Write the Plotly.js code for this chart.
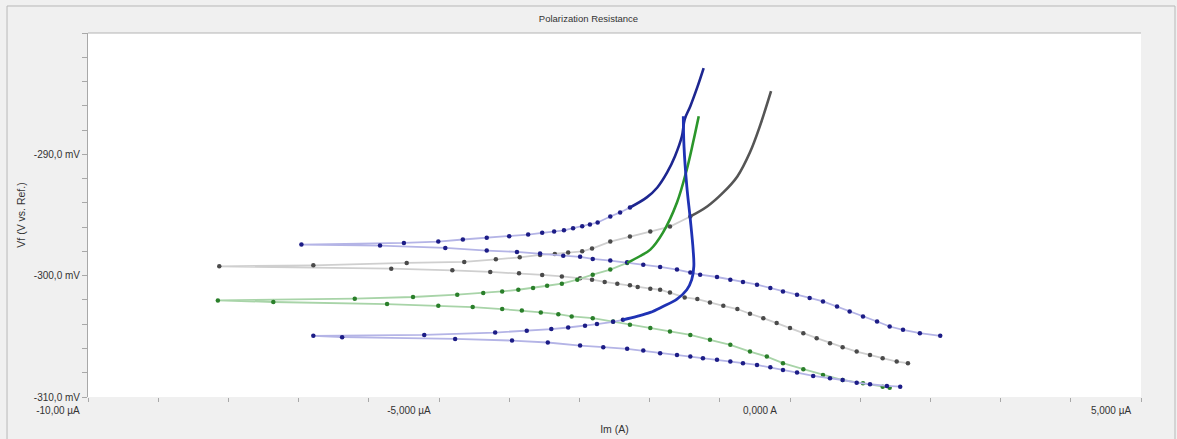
<!DOCTYPE html>
<html>
<head>
<meta charset="utf-8">
<script src="https://cdn.plot.ly/plotly-3.0.1.min.js"></script>
<style>html,body{margin:0;padding:0;background:#f0f0f0;}#chart{width:1177px;height:439px;}</style>
</head>
<body>
<div id="chart"></div>
<script>
// Current in µA, potential in mV
// Blue curve A (sparse/marked part: lower branch right->left, then upper branch)
const blueA_x = [2.14,1.85,1.61,1.42,1.24,1.04,0.85,0.67,0.47,0.28,0.10,-0.10,-0.28,-0.47,-0.67,-0.85,-1.04,-1.28,-1.42,-1.61,-1.85,-2.09,-2.32,-2.56,-2.81,-2.99,-3.23,-3.56,-3.89,-4.32,-4.91,-5.84,-6.96,-5.50,-5.01,-4.66,-4.32,-4.00,-3.73,-3.53,-3.36,-3.22,-3.09,-2.96,-2.85,-2.74,-2.56,-2.42,-2.28];
const blueA_y = [-304.96,-304.74,-304.46,-304.19,-303.78,-303.36,-302.95,-302.54,-302.12,-301.84,-301.57,-301.30,-301.02,-300.74,-300.52,-300.33,-300.11,-299.92,-299.73,-299.50,-299.28,-299.09,-298.90,-298.76,-298.62,-298.45,-298.35,-298.18,-298.04,-297.93,-297.71,-297.52,-297.44,-297.30,-297.19,-297.02,-296.88,-296.75,-296.61,-296.47,-296.36,-296.26,-296.09,-295.93,-295.79,-295.62,-295.12,-294.79,-294.38];
const blueA_dense_x = [-2.28,-2.04,-1.89,-1.75,-1.64,-1.54,-1.50,-1.42,-1.32,-1.23];
const blueA_dense_y = [-294.38,-293.55,-292.73,-291.49,-290.17,-288.51,-287.11,-286.03,-284.46,-282.89];

// Blue curve B
const blueB_x = [1.57,1.38,1.14,0.95,0.75,0.57,0.33,0.10,-0.10,-0.28,-0.47,-0.67,-0.85,-1.04,-1.24,-1.42,-1.61,-1.85,-2.09,-2.32,-2.66,-2.99,-3.45,-3.96,-4.77,-6.38,-6.79,-5.21,-4.20,-3.75,-3.40,-3.16,-2.92,-2.75,-2.52,-2.38];
const blueB_y = [-309.15,-309.09,-308.95,-308.82,-308.60,-308.45,-308.26,-307.99,-307.77,-307.55,-307.36,-307.21,-307.08,-306.94,-306.80,-306.67,-306.53,-306.39,-306.17,-306.03,-305.89,-305.76,-305.51,-305.35,-305.21,-305.07,-304.96,-304.88,-304.69,-304.55,-304.40,-304.27,-304.13,-303.99,-303.80,-303.64];
const blueB_dense_x = [-2.38,-2.18,-1.99,-1.81,-1.61,-1.47,-1.40,-1.37,-1.38,-1.42,-1.47,-1.51,-1.52];
const blueB_dense_y = [-303.64,-303.36,-303.03,-302.54,-301.93,-301.16,-300.33,-299.23,-297.85,-295.37,-292.64,-289.34,-286.86];

// Green curve
const green_x = [1.42,1.32,1.04,0.75,0.47,0.19,-0.10,-0.33,-0.57,-0.85,-1.14,-1.42,-1.71,-1.99,-2.28,-2.52,-2.81,-3.11,-3.30,-3.55,-3.82,-4.10,-4.52,-5.01,-5.74,-7.36,-8.15,-6.20,-5.37,-4.74,-4.37,-4.10,-3.87,-3.66,-3.46,-3.25,-3.03,-2.81,-2.56,-2.32];
const green_y = [-309.23,-309.15,-308.87,-308.60,-308.18,-307.71,-307.21,-306.67,-306.26,-305.70,-305.29,-304.88,-304.60,-304.32,-304.05,-303.78,-303.50,-303.36,-303.17,-303.03,-302.87,-302.75,-302.59,-302.48,-302.34,-302.17,-302.04,-301.90,-301.76,-301.57,-301.43,-301.30,-301.16,-301.02,-300.83,-300.66,-300.33,-299.92,-299.50,-298.95];
const green_dense_x = [-2.32,-2.14,-1.99,-1.81,-1.61,-1.47,-1.38,-1.30];
const green_dense_y = [-298.95,-298.40,-297.85,-296.45,-293.97,-291.24,-289.01,-286.86];

// Gray curve
const gray_x = [1.68,1.52,1.32,1.14,0.95,0.75,0.57,0.38,0.19,0.00,-0.19,-0.38,-0.57,-0.75,-0.95,-1.14,-1.32,-1.50,-1.71,-1.85,-1.99,-2.17,-2.28,-2.46,-2.64,-2.82,-2.99,-3.25,-3.53,-3.86,-4.27,-4.81,-5.68,-8.13,-6.79,-5.46,-4.64,-4.19,-3.85,-3.56,-3.35,-3.16,-2.96,-2.82,-2.56,-2.28,-1.99,-1.71,-1.42];
const gray_y = [-307.21,-307.08,-306.80,-306.53,-306.26,-305.89,-305.56,-305.15,-304.74,-304.32,-303.91,-303.50,-303.14,-302.75,-302.48,-302.21,-301.93,-301.79,-301.38,-301.16,-301.07,-300.93,-300.80,-300.66,-300.52,-300.33,-300.22,-300.06,-299.94,-299.81,-299.69,-299.56,-299.42,-299.23,-299.15,-298.95,-298.87,-298.65,-298.49,-298.29,-298.21,-298.10,-297.99,-297.77,-297.19,-296.78,-296.36,-295.95,-295.12];
const gray_dense_x = [-1.42,-1.18,-0.95,-0.75,-0.57,-0.43,-0.27];
const gray_dense_y = [-295.12,-294.30,-293.14,-291.82,-289.83,-287.69,-284.79];

const xTickVals = [-10,-5,0,5];
const xTickText = ["-10,00 µA","-5,000 µA","0,000 A","5,000 µA"];
const yTickVals = [-310,-300,-290];
const yTickText = ["-310,0 mV","-300,0 mV","-290,0 mV"];

function marked(x,y,lineCol,markCol){
  return {x:x,y:y,type:'scatter',mode:'lines+markers',
    line:{color:lineCol,width:1.8},
    marker:{color:markCol,size:4.5,symbol:'circle'},hoverinfo:'skip',showlegend:false};
}
function dense(x,y,col,w){
  return {x:x,y:y,type:'scatter',mode:'lines',line:{color:col,width:w,shape:'spline'},hoverinfo:'skip',showlegend:false};
}

const data = [
  marked(gray_x,gray_y,'#cfcfcf','#4a4a4a'),
  marked(green_x,green_y,'#a8d4a8','#2a7f2a'),
  marked(blueA_x,blueA_y,'#b4b4e6','#1c1c86'),
  marked(blueB_x,blueB_y,'#b4b4e6','#1c1c86'),
  dense(gray_dense_x,gray_dense_y,'#555555',2.6),
  dense(green_dense_x,green_dense_y,'#2b962b',2.6),
  dense(blueA_dense_x,blueA_dense_y,'#1d2690',2.6),
  dense(blueB_dense_x,blueB_dense_y,'#1f32b4',2.8)
];

const font = {family:'Arial, "Liberation Sans", sans-serif', size:10, color:'#333333'};

const layout = {
  width:1177, height:439,
  margin:{l:88, r:36, t:33, b:42, pad:0},
  paper_bgcolor:'#f0f0f0', plot_bgcolor:'#ffffff',
  font:font,
  title:{text:'Polarization Resistance', font:{family:font.family,size:9.5,color:'#333'}, xref:'container', x:0.5, xanchor:'center', yref:'container', y:0.957, yanchor:'middle'},
  xaxis:{range:[-10,5], tickvals:xTickVals, ticktext:xTickText, ticks:'outside', ticklen:4, tickcolor:'#a8a8a8', tickwidth:1,
    ticklabelshift:-30,
    minor:{dtick:1, tick0:0, ticks:'outside', ticklen:4, tickcolor:'#a8a8a8', tickwidth:1, showgrid:false},
    showgrid:false, zeroline:false, showline:false,
    title:{text:'Im (A)', font:{family:font.family,size:10.5,color:'#333'}, standoff:10},
    tickfont:{family:font.family,size:10,color:'#333'}, fixedrange:true},
  yaxis:{range:[-310,-280], tickvals:yTickVals, ticktext:yTickText, ticks:'outside', ticklen:5, tickcolor:'#a8a8a8', tickwidth:1,
    minor:{dtick:2, tick0:-310, ticks:'outside', ticklen:5, tickcolor:'#a8a8a8', tickwidth:1, showgrid:false},
    showgrid:false, zeroline:false, showline:true, linecolor:'#a8a8a8', linewidth:1,
    title:{text:'Vf (V vs. Ref.)', font:{family:font.family,size:10.5,color:'#333'}, standoff:6},
    tickfont:{family:font.family,size:10,color:'#333'}, fixedrange:true},
  shapes:[
    {type:'line', xref:'paper', yref:'paper', x0:0, x1:1, y0:1, y1:1, line:{color:'#b4b4b4', width:1}},
    {type:'rect', xref:'paper', yref:'paper', x0:-0.0769, x1:1.0323, y0:-0.2, y1:1.0742, line:{color:'#b8b8b8', width:1}, layer:'below'}
  ]
};

Plotly.newPlot('chart', data, layout, {displayModeBar:false, staticPlot:true});
</script>
</body>
</html>
